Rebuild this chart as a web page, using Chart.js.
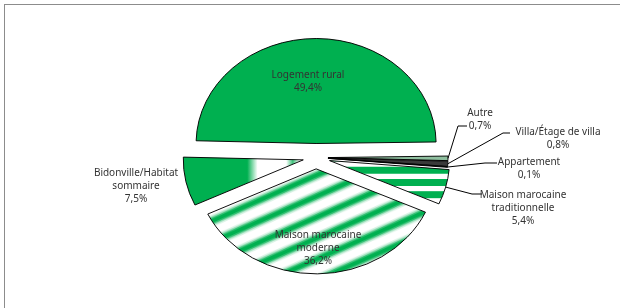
<!DOCTYPE html>
<html>
<head>
<meta charset="utf-8">
<script src="https://cdn.jsdelivr.net/npm/chart.js@4.4.1/dist/chart.umd.min.js"></script>
<style>
    html, body { margin: 0; padding: 0; background: #fff; overflow: hidden; }
    #wrap  { position: relative; width: 620px; height: 308px; }
    #frame { position: absolute; left: 4px; top: 4px; width: 660px; height: 360px; border: 1px solid #8c8c8c; }
    canvas { position: absolute; left: 0; top: 0; }
</style>
</head>
<body>
<div id="wrap">
    <div id="frame"></div>
    <canvas id="chart-logement" width="620" height="308"></canvas>
</div>
<script>
// ── Données (sens horaire, à partir de "Logement rural") ──────────
const categories  = ['Logement rural', 'Autre', 'Villa/Étage de villa', 'Appartement',
                     'Maison marocaine traditionnelle', 'Maison marocaine moderne', 'Bidonville/Habitat sommaire'];
const shares      = [49.4, 0.7, 0.8, 0.1, 5.4, 36.2, 7.5];
const shareLabels = ['49,4%', '0,7%', '0,8%', '0,1%', '5,4%', '36,2%', '7,5%'];
const labelLines  = [
    ['Logement rural'],
    ['Autre'],
    ['Villa/Étage de villa'],
    ['Appartement'],
    ['Maison marocaine', 'traditionnelle'],
    ['Maison marocaine', 'moderne'],
    ['Bidonville/Habitat', 'sommaire'],
];

// ── Mise en page des étiquettes ───────────────────────────────────
const labelPos = [
    { x: 308, y: 75 },
    { x: 480, y: 113, leader: [[467, 126], [458, 126]] },
    { x: 558, y: 132, leader: [[510, 133], [503, 133]] },
    { x: 529, y: 162, leader: [[497, 163], [485, 163]] },
    { x: 523, y: 195, leader: [[482, 194], [472, 194]] },
    { x: 318, y: 235 },
    { x: 136, y: 173 },
];

const green     = '#00b050';
const textColor = '#333333';
const SQUASH    = 0.875;   // camembert aplati (ellipse)
const pieRadius = 120;
const lineH     = 13;
const explode   = [16, 12, 12, 12, 14, 13, 13];   // éclatement des parts (px)

const canvas = document.getElementById('chart-logement');
const ctx0   = canvas.getContext('2d');

function makePattern(w, h, paint) {
    const c = document.createElement('canvas');
    c.width = w; c.height = h;
    paint(c.getContext('2d'), w, h);
    return ctx0.createPattern(c, 'repeat');
}

// rayures diagonales floues (maison moderne)
const diagStripes = makePattern(48, 24, (g, w, h) => {
    g.fillStyle = '#fff';
    g.fillRect(0, 0, w, h);
    g.lineCap = 'butt';
    [[13, 'rgba(0,176,80,.15)'], [10, 'rgba(0,176,80,.3)'], [7, 'rgba(0,176,80,.65)'], [4, green]].forEach(([lw, col]) => {
        g.lineWidth = lw;
        g.strokeStyle = col;
        [-h, 0, h].forEach(dy => {
            g.beginPath();
            g.moveTo(-4, h + 2 + dy);
            g.lineTo(w + 4, -2 + dy);
            g.stroke();
        });
    });
});

// rayures horizontales (maison traditionnelle)
const horizStripes = makePattern(4, 14, (g, w, h) => {
    g.fillStyle = '#fff';
    g.fillRect(0, 0, w, h);
    g.fillStyle = green;
    g.fillRect(0, 0, w, 8);
});

// bandes verticales larges (bidonville) — coordonnées avant décalage de la part
const wideBands = ctx0.createLinearGradient(190, 0, 320, 0);
wideBands.addColorStop(0, green);
wideBands.addColorStop(0.44, green);
wideBands.addColorStop(0.52, '#ffffff');
wideBands.addColorStop(0.74, '#ffffff');
wideBands.addColorStop(0.79, '#40c27c');
wideBands.addColorStop(0.84, '#ffffff');
wideBands.addColorStop(1, '#ffffff');

const sliceColors = [green, '#8fbf9f', '#3a3a3a', '#000000', horizStripes, diagStripes, wideBands];

// ── Éclatement + ellipse ──────────────────────────────────────────
const explodePie = {
    id: 'explodePie',
    beforeDatasetsDraw(chart) {
        const { left, right, top, bottom } = chart.chartArea;
        const cx = (left + right) / 2, cy = (top + bottom) / 2;
        chart.getDatasetMeta(0).data.forEach((a, i) => {
            const mid = (a.startAngle + a.endAngle) / 2;
            a.x = cx + Math.cos(mid) * explode[i];
            a.y = cy + Math.sin(mid) * explode[i];
        });
        const c = chart.ctx;
        c.save();
        c.translate(0, cy);
        c.scale(1, SQUASH);
        c.translate(0, -cy);
    },
    afterDatasetsDraw(chart) {
        chart.ctx.restore();
    }
};

function arcEdge(chart, arc) {
    const cy  = (chart.chartArea.top + chart.chartArea.bottom) / 2;
    const mid = (arc.startAngle + arc.endAngle) / 2;
    return {
        x: arc.x + Math.cos(mid) * pieRadius,
        y: cy + (arc.y - cy + Math.sin(mid) * pieRadius) * SQUASH
    };
}

const pieLabels = {
    id: 'pieLabels',
    afterDraw(chart) {
        const c = chart.ctx;
        c.save();
        c.font = '10px "Noto Sans"';
        c.fillStyle = textColor;
        c.textAlign = 'center';
        c.textBaseline = 'middle';
        c.strokeStyle = '#000';
        c.lineWidth = 1;
        chart.getDatasetMeta(0).data.forEach((arc, i) => {
            const p = labelPos[i];
            if (p.leader) {
                const e = arcEdge(chart, arc);
                c.beginPath();
                c.moveTo(p.leader[0][0], p.leader[0][1]);
                c.lineTo(p.leader[1][0], p.leader[1][1]);
                c.lineTo(e.x, e.y);
                c.stroke();
            }
            [...labelLines[i], shareLabels[i]].forEach((t, j) => c.fillText(t, p.x, p.y + j * lineH));
        });
        c.restore();
    }
};

new Chart(canvas, {
    type: 'pie',
    data: {
        labels: categories,
        datasets: [{
            data: shares,
            backgroundColor: sliceColors,
            borderColor: '#000',
            borderWidth: 1,
            hoverOffset: 0,
        }]
    },
    options: {
        responsive: false,
        animation: false,
        rotation: -88.5,
        radius: pieRadius,
        layout: { padding: { left: 20, right: 8, top: 13, bottom: 6 } },
        plugins: {
            legend: { display: false },
            tooltip: { enabled: false }
        }
    },
    plugins: [explodePie, pieLabels]
});
</script>
</body>
</html>
